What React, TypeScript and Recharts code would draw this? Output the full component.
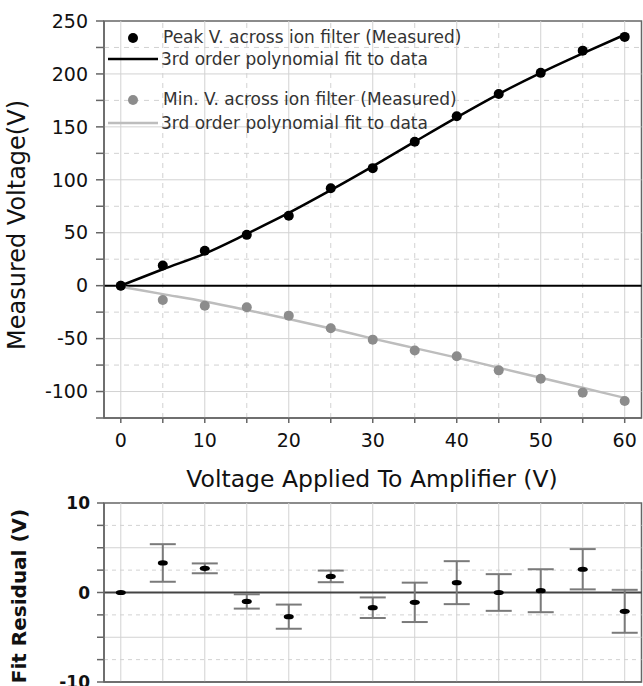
import React from 'react';
import { ComposedChart, Scatter, XAxis, YAxis, ReferenceLine, ReferenceArea, ErrorBar } from 'recharts';

// applied amplifier voltage (V)
const VOLTS = [0, 5, 10, 15, 20, 25, 30, 35, 40, 45, 50, 55, 60];
// measured across ion filter
const PEAK_MEASURED = [0, 19, 33, 48, 66, 92, 111, 136, 160, 181, 201, 222, 235];
const MIN_MEASURED = [0, -13.5, -19, -20.4, -28.3, -40.3, -51, -61.3, -66.7, -80, -88, -101, -109];
// 3rd order fits
const PEAK_FIT = [0, 15.5, 30.3, 49, 68.7, 90.2, 112.7, 136, 159, 181, 201, 219.4, 237];
const MIN_FIT = [-1, -8, -15, -23, -31.5, -40.5, -50, -59, -68, -77.5, -87, -96.5, -106];
// residual panel
const RESIDUAL = [0, 3.3, 2.7, -1.0, -2.7, 1.8, -1.7, -1.1, 1.1, 0, 0.2, 2.6, -2.1];
const RESIDUAL_ERR = [0, 2.1, 0.55, 0.8, 1.35, 0.65, 1.15, 2.2, 2.4, 2.05, 2.4, 2.25, 2.4];

// ticks / grid
const X_DOMAIN = [-2, 62];
const Y_DOMAIN = [-125, 250];
const R_DOMAIN = [-10, 10];
const X_TICKS = [0, 5, 10, 15, 20, 25, 30, 35, 40, 45, 50, 55, 60];
const X_MAJOR = [0, 10, 20, 30, 40, 50, 60];
const X_MINOR = [5, 15, 25, 35, 45, 55];
const Y_TICKS = [-125, -100, -75, -50, -25, 0, 25, 50, 75, 100, 125, 150, 175, 200, 225, 250];
const Y_MAJOR = [-100, -50, 50, 100, 150, 200];
const Y_MINOR = [-75, -25, 25, 75, 125, 175, 225];
const R_TICKS = [-10, -7.5, -5, -2.5, 0, 2.5, 5, 7.5, 10];
const R_SOLID = [-5, 5];
const R_DOTTED = [-7.5, -2.5, 2.5, 7.5];

const FONT = 'DejaVu Sans';
const AXIS = '#666';
const GRID = '#d2d2d2';
const axisLine = { stroke: AXIS, strokeWidth: 1.5 };

const peakPts = VOLTS.map((x, i) => ({ x, y: PEAK_MEASURED[i] }));
const minPts = VOLTS.map((x, i) => ({ x, y: MIN_MEASURED[i] }));
const peakFit = VOLTS.map((x, i) => ({ x, y: PEAK_FIT[i] }));
const minFit = VOLTS.map((x, i) => ({ x, y: MIN_FIT[i] }));
const residuals = VOLTS.map((x, i) => ({ x, y: RESIDUAL[i], err: RESIDUAL_ERR[i] }));

const dot = (fill: string) => (p: any) => <circle cx={p.cx} cy={p.cy} r={5} fill={fill} />;
const noDot = () => <g />;
const dash = (p: any) => <ellipse cx={p.cx} cy={p.cy} rx={5} ry={2.6} fill="#000" />;

export default function App() {
  return (
    <div style={{ position: 'absolute', left: 0, top: 0, width: 643, height: 686, overflow: 'hidden', background: '#fff' }}>
      {/* main panel */}
      <div style={{ position: 'absolute', left: 0, top: 0 }}>
        <ComposedChart width={643} height={500} margin={{ top: 21, right: 1.5, bottom: 0, left: 0 }}>
          {X_MAJOR.map((v) => (
            <ReferenceLine key={`xm${v}`} x={v} stroke={GRID} strokeWidth={1} />
          ))}
          {X_MINOR.map((v) => (
            <ReferenceLine key={`xn${v}`} x={v} stroke={GRID} strokeDasharray="5 5" />
          ))}
          {Y_MAJOR.map((v) => (
            <ReferenceLine key={`ym${v}`} y={v} stroke={GRID} strokeWidth={1} />
          ))}
          {Y_MINOR.map((v) => (
            <ReferenceLine key={`yn${v}`} y={v} stroke={GRID} strokeDasharray="5 5" />
          ))}
          <XAxis
            dataKey="x"
            type="number"
            domain={X_DOMAIN}
            ticks={X_TICKS}
            interval={0}
            height={82}
            tickSize={5}
            tickMargin={11}
            axisLine={axisLine}
            tickLine={axisLine}
            tickFormatter={(v: number) => (v % 10 === 0 ? String(v) : '')}
            tick={{ fontSize: 19, fill: '#111', fontFamily: FONT }}
            allowDataOverflow
          />
          <XAxis
            xAxisId="top"
            dataKey="x"
            type="number"
            orientation="top"
            domain={X_DOMAIN}
            ticks={X_TICKS}
            interval={0}
            height={0}
            mirror
            tickSize={5}
            tick={false}
            axisLine={axisLine}
            tickLine={axisLine}
            allowDataOverflow
          />
          <YAxis
            dataKey="y"
            type="number"
            domain={Y_DOMAIN}
            ticks={Y_TICKS}
            interval={0}
            width={104}
            tickSize={8}
            tickMargin={8}
            axisLine={axisLine}
            tickLine={axisLine}
            tickFormatter={(v: number) => (v % 50 === 0 ? String(v) : '')}
            tick={{ fontSize: 19, fill: '#111', fontFamily: FONT }}
            allowDataOverflow
          />
          <YAxis
            yAxisId="right"
            dataKey="y"
            type="number"
            orientation="right"
            domain={Y_DOMAIN}
            ticks={Y_TICKS}
            interval={0}
            width={0}
            mirror
            tickSize={5}
            tick={false}
            axisLine={axisLine}
            tickLine={axisLine}
            allowDataOverflow
          />
          <ReferenceLine y={0} stroke="#000" strokeWidth={2} />
          <Scatter
            data={minFit}
            line={{ stroke: '#bdbdbd', strokeWidth: 2.5 }}
            lineJointType="monotoneX"
            shape={noDot}
            isAnimationActive={false}
          />
          <Scatter data={minPts} shape={dot('#8c8c8c')} isAnimationActive={false} />
          <Scatter
            data={peakFit}
            line={{ stroke: '#000', strokeWidth: 2.5 }}
            lineJointType="monotoneX"
            shape={noDot}
            isAnimationActive={false}
          />
          <Scatter data={peakPts} shape={dot('#000')} isAnimationActive={false} />
          <ReferenceArea
            x1={X_DOMAIN[0]}
            x2={X_DOMAIN[1]}
            y1={Y_DOMAIN[0]}
            y2={Y_DOMAIN[1]}
            fill="none"
            fillOpacity={0}
            stroke={AXIS}
            strokeWidth={1.5}
            ifOverflow="visible"
          />
        </ComposedChart>
      </div>

      {/* residual panel */}
      <div style={{ position: 'absolute', left: 0, top: 490 }}>
        <ComposedChart width={643} height={220} margin={{ top: 13, right: 1.5, bottom: 0, left: 0 }}>
          {X_TICKS.map((v) => (
            <ReferenceLine key={`rx${v}`} x={v} stroke={GRID} strokeWidth={1} />
          ))}
          {R_SOLID.map((v) => (
            <ReferenceLine key={`rs${v}`} y={v} stroke={GRID} strokeWidth={1} />
          ))}
          {R_DOTTED.map((v) => (
            <ReferenceLine key={`rd${v}`} y={v} stroke={GRID} strokeDasharray="4 4" />
          ))}
          <XAxis
            dataKey="x"
            type="number"
            domain={X_DOMAIN}
            ticks={X_TICKS}
            interval={0}
            height={28}
            tickSize={5}
            tick={false}
            axisLine={axisLine}
            tickLine={axisLine}
            allowDataOverflow
          />
          <XAxis
            xAxisId="top"
            dataKey="x"
            type="number"
            orientation="top"
            domain={X_DOMAIN}
            ticks={X_TICKS}
            interval={0}
            height={0}
            mirror
            tickSize={5}
            tick={false}
            axisLine={axisLine}
            tickLine={axisLine}
            allowDataOverflow
          />
          <YAxis
            dataKey="y"
            type="number"
            domain={R_DOMAIN}
            ticks={R_TICKS}
            interval={0}
            width={104}
            tickSize={7}
            tickMargin={7}
            axisLine={axisLine}
            tickLine={axisLine}
            tickFormatter={(v: number) => (v % 10 === 0 ? String(v) : '')}
            tick={{ fontSize: 17, fill: '#111', fontFamily: FONT, fontWeight: 'bold' }}
            allowDataOverflow
          />
          <YAxis
            yAxisId="right"
            dataKey="y"
            type="number"
            orientation="right"
            domain={R_DOMAIN}
            ticks={R_TICKS}
            interval={0}
            width={0}
            mirror
            tickSize={5}
            tick={false}
            axisLine={axisLine}
            tickLine={axisLine}
            allowDataOverflow
          />
          <ReferenceLine y={0} stroke="#444" strokeWidth={2} />
          <Scatter data={residuals} shape={dash} isAnimationActive={false}>
            <ErrorBar dataKey="err" direction="y" width={13} stroke="#7a7a7a" strokeWidth={2} />
          </Scatter>
          <ReferenceArea
            x1={X_DOMAIN[0]}
            x2={X_DOMAIN[1]}
            y1={R_DOMAIN[0]}
            y2={R_DOMAIN[1]}
            fill="none"
            fillOpacity={0}
            stroke={AXIS}
            strokeWidth={1.5}
            ifOverflow="visible"
          />
        </ComposedChart>
      </div>

      {/* titles and legend */}
      <svg
        width={643}
        height={686}
        style={{ position: 'absolute', left: 0, top: 0, pointerEvents: 'none' }}
        fontFamily={FONT}
      >
        <text x={25} y={225} transform="rotate(-90 25 225)" textAnchor="middle" fontSize={24} fill="#111">
          Measured Voltage(V)
        </text>
        <text x={372} y={487} textAnchor="middle" fontSize={23.5} fill="#111">
          Voltage Applied To Amplifier (V)
        </text>
        <text x={26} y={596} transform="rotate(-90 26 596)" textAnchor="middle" fontSize={20} fontWeight="bold" fill="#111">
          Fit Residual (V)
        </text>

        <circle cx={133} cy={38} r={5} fill="#000" />
        <text x={163} y={43} fontSize={17} fill="#333">Peak V. across ion filter (Measured)</text>
        <line x1={108} x2={158} y1={59} y2={59} stroke="#000" strokeWidth={2.5} />
        <text x={161} y={65} fontSize={17} fill="#333">3rd order polynomial fit to data</text>
        <circle cx={133} cy={100} r={5} fill="#8c8c8c" />
        <text x={163} y={104.5} fontSize={17} fill="#333">Min. V. across ion filter (Measured)</text>
        <line x1={108} x2={158} y1={123} y2={123} stroke="#bdbdbd" strokeWidth={2.5} />
        <text x={161} y={129} fontSize={17} fill="#333">3rd order polynomial fit to data</text>
      </svg>
    </div>
  );
}
